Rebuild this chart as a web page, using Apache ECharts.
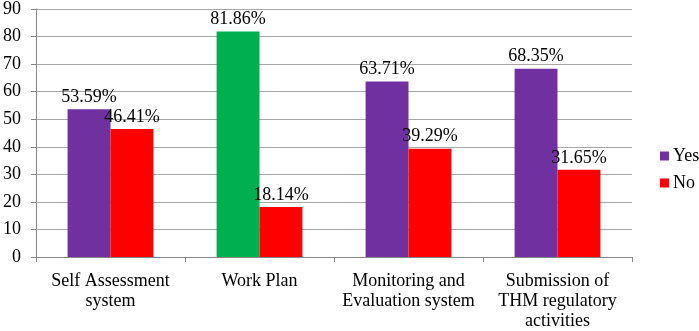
<!DOCTYPE html>
<html>
<head>
<meta charset="utf-8">
<script src="https://cdn.jsdelivr.net/npm/echarts@6/dist/echarts.min.js"></script>
<style>
  html, body { margin: 0; padding: 0; background: #fff; }
  #chart { width: 699px; height: 331px; }
</style>
</head>
<body>
<div id="chart"></div>
<script>
const categories = ['Self Assessment\nsystem', 'Work Plan', 'Monitoring and\nEvaluation system', 'Submission of\nTHM regulatory\nactivities']
const yesValues = [53.59, 81.86, 63.71, 68.35]
const noValues = [46.41, 18.14, 39.29, 31.65]
const yTicks = [0, 10, 20, 30, 40, 50, 60, 70, 80, 90]

const font = '"Liberation Serif", "Times New Roman", serif'
const purple = '#7030A0'
const green = '#00B050'
const red = '#FF0000'

const chart = echarts.init(document.getElementById('chart'))

const labelStyle = {
  show: true,
  position: 'top',
  distance: 3,
  color: '#000',
  fontFamily: font,
  fontSize: 18,
  formatter: function(p) {
    return p.value.toFixed(2) + '%'
  }
}

chart.setOption({
  animation: false,
  textStyle: { fontFamily: font },
  grid: { left: 34, right: 67, top: 6, bottom: 71, containLabel: false },
  legend: {
    orient: 'vertical',
    left: 655,
    top: 142,
    itemWidth: 9,
    itemHeight: 9,
    itemGap: 9,
    icon: 'rect',
    textStyle: { fontFamily: font, fontSize: 18, color: '#000', padding: [0, 0, 0, -1] },
    data: ['Yes', 'No']
  },
  xAxis: {
    type: 'category',
    data: categories,
    axisLine: { lineStyle: { color: '#868686' } },
    axisTick: { show: true, length: 5, lineStyle: { color: '#868686' } },
    axisLabel: {
      color: '#000',
      fontFamily: font,
      fontSize: 18,
      lineHeight: 20,
      margin: 14,
      interval: 0
    }
  },
  yAxis: {
    type: 'value',
    min: yTicks[0],
    max: yTicks[yTicks.length - 1],
    interval: 10,
    axisLine: { show: true, lineStyle: { color: '#868686' } },
    axisTick: { show: true, length: 5, lineStyle: { color: '#868686' } },
    axisLabel: { color: '#000', fontFamily: font, fontSize: 18, margin: 15 },
    splitLine: { lineStyle: { color: '#A6A6A6' } }
  },
  series: [
    {
      name: 'Yes',
      type: 'bar',
      barWidth: '28.8%',
      barGap: '0%',
      itemStyle: { color: purple },
      label: labelStyle,
      data: yesValues.map(function(v, i) {
        return i === 1 ? { value: v, itemStyle: { color: green } } : v
      })
    },
    {
      name: 'No',
      type: 'bar',
      barWidth: '28.8%',
      itemStyle: { color: red },
      label: labelStyle,
      data: noValues
    }
  ]
})
</script>
</body>
</html>
